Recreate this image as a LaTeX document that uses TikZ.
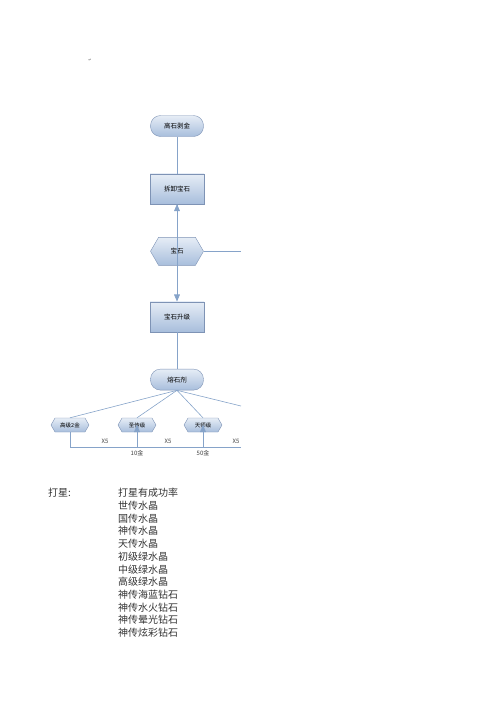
\documentclass[tikz,border=0pt]{standalone}
\usepackage{fontspec}
\setmainfont{Noto Sans CJK SC}
\newfontfamily\symfont{DejaVu Sans}
\usetikzlibrary{positioning,arrows,shapes.symbols}
\definecolor{edgeblue}{HTML}{86A3C9}
\definecolor{rimblue}{HTML}{7E93B5}
\definecolor{fillhi}{HTML}{E6EDF6}
\definecolor{filllo}{HTML}{A8BEDC}
\tikzset{
  flow/.style={draw=edgeblue, line width=0.6pt},
  pill/.style={draw=rimblue, rounded corners=10pt, top color=fillhi, bottom color=filllo,
    minimum width=53pt, minimum height=21pt, inner sep=1pt, font=\fontsize{6.5}{7}\selectfont},
  stepbox/.style={draw=rimblue, top color=fillhi, bottom color=filllo,
    minimum width=54pt, minimum height=30pt, inner sep=1pt, font=\fontsize{6.5}{7}\selectfont},
  hexa/.style={draw=rimblue, shape=signal, signal to=west and east, signal pointer angle=120,
    top color=fillhi, bottom color=filllo, minimum width=53pt, minimum height=28pt,
    inner sep=1pt, font=\fontsize{6.5}{7}\selectfont},
  smallhex/.style={hexa, minimum width=38pt, minimum height=14pt, font=\fontsize{5.5}{6}\selectfont},
  tag/.style={inner sep=0pt, font=\fontsize{6}{7}\selectfont, text=black!75},
  line/.style={anchor=west, inner sep=0pt, font=\fontsize{10}{12}\selectfont, text=black!80}
}
\begin{document}
\begin{tikzpicture}[x=1pt, y=-1pt]
  \useasboundingbox (0,0) rectangle (496,702);
  \node[inner sep=0pt, font=\symfont\fontsize{4}{4}\selectfont, text=black!60] (ret) at (90,60) {↵};

  % main column
  \node[pill] (peel) at (177,126) {高石剥金};
  \node[stepbox, below=37pt of peel] (takeoff) {拆卸宝石};
  \node[hexa, below=33pt of takeoff] (gem) {宝石};
  \node[stepbox, below=36pt of gem] (upgrade) {宝石升级};
  \node[pill, below=37pt of upgrade] (melt) {熔石剂};

  \coordinate (base) at (241,447);
  \coordinate (gemout) at (gem.east -| base);
  \draw[flow] (peel) -- (takeoff);
  \draw[flow] (gem.east) -- (gemout);
  \draw[flow,-triangle 45] (gem.center) -- (takeoff);
  \draw[flow,-triangle 45] (gem.center) -- (upgrade);
  \draw[flow] (upgrade) -- (melt);

  % bottom row
  \node[smallhex] (lv1) at (70,425) {高级2金};
  \node[smallhex] (lv2) at (137,425) {圣传级};
  \node[smallhex] (lv3) at (203,425) {天师级};
  \coordinate (lv4) at (241,406);

  \draw[flow] (melt.south) -- (lv1.north);
  \draw[flow] (melt.south) -- (lv2.north);
  \draw[flow] (melt.south) -- (lv3.north);
  \draw[flow] (melt.south) -- (lv4);
  \draw[flow] (lv1.south) |- (base);
  \draw[flow,-triangle 45] (lv2 |- base) -- (lv2.center);
  \draw[flow,-triangle 45] (lv3 |- base) -- (lv3.center);

  \node[tag] (x1) at (105,441) {X5};
  \node[tag] (x2) at (168,441) {X5};
  \node[tag] (x3) at (236,441) {X5};
  \node[tag] (g1) at (137,453) {10金};
  \node[tag] (g2) at (203,453) {50金};

  % star list
  \node[line] (star) at (48,493) {打星:};
  \foreach \txt [count=\i from 0] in {打星有成功率,世传水晶,国传水晶,神传水晶,天传水晶,初级绿水晶,
      中级绿水晶,高级绿水晶,神传海蓝钻石,神传水火钻石,神传晕光钻石,神传炫彩钻石}
    \node[line] (item\i) at (118,493+12.7*\i) {\txt};
\end{tikzpicture}
\end{document}
